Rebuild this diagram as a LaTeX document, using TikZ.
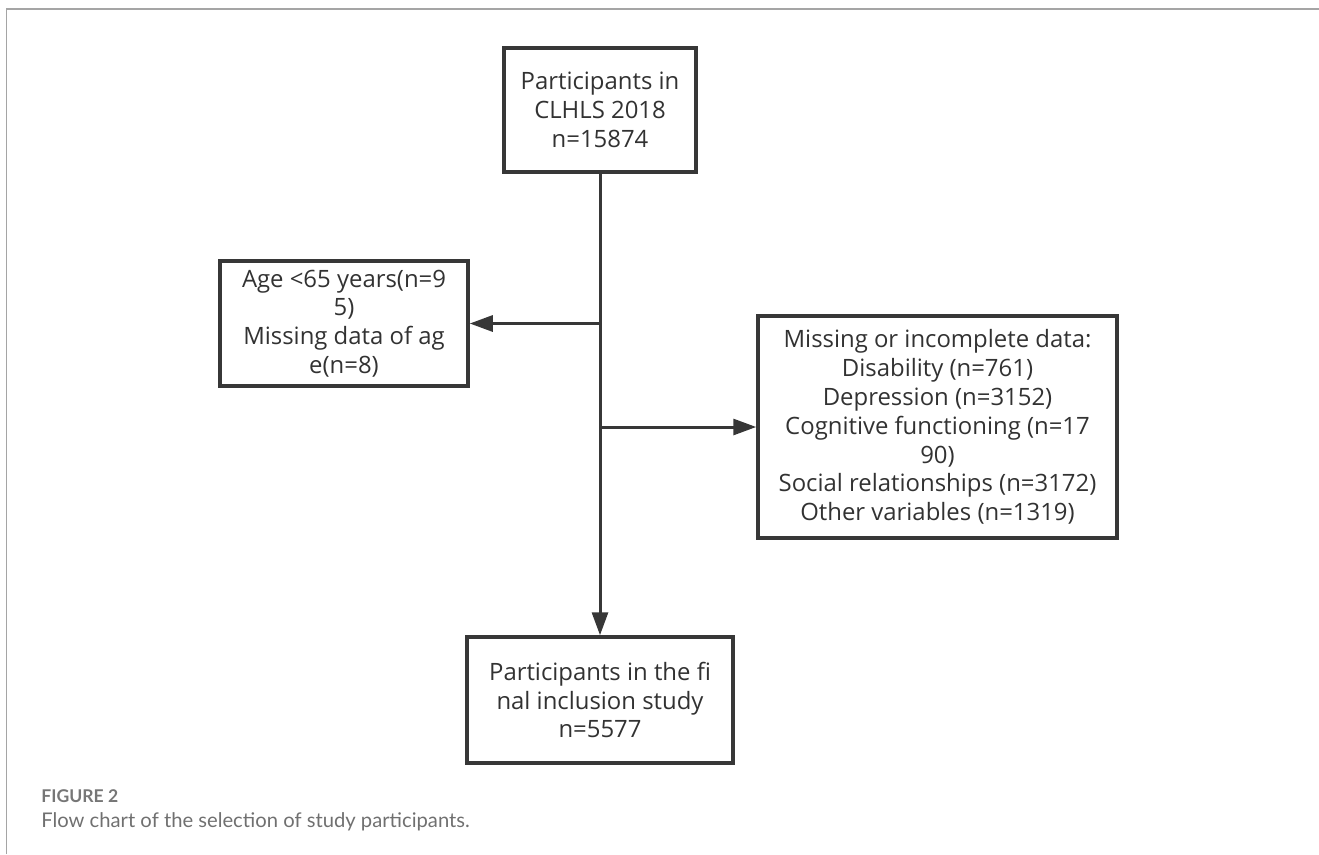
\documentclass[tikz,border=0pt]{standalone}
\usepackage{fontspec}
\setmainfont{Open Sans}
\newfontfamily\capfont{Lato}
\usetikzlibrary{arrows.meta, positioning}
\definecolor{boxGray}{RGB}{55,55,55}
\definecolor{textGray}{RGB}{50,50,50}
\definecolor{frameGray}{RGB}{165,165,165}
\definecolor{capGray}{RGB}{118,118,118}

\begin{document}
\begin{tikzpicture}[
    % Flow-chart box, sizes given per node
    stepbox/.style={
        rectangle, draw=boxGray, line width=2pt,
        text=textGray, align=center, inner sep=0pt,
        font=\fontsize{13.6}{16.4}\selectfont
    },
    % Connector with solid triangle tip
    flow/.style={
        -{Triangle[length=0.46cm, width=0.32cm]},
        line width=1.7pt, draw=boxGray
    },
    frameline/.style={draw=frameGray, line width=1.1pt},
    caphead/.style={font=\capfont\bfseries\fontsize{10}{12}\selectfont,
                    text=capGray, anchor=base west, inner sep=0pt},
    captext/.style={font=\capfont\fontsize{11.5}{13}\selectfont,
                    text=capGray!95!black, anchor=base west, inner sep=0pt}
]
\useasboundingbox (0,0) rectangle (26.38,-17.08);
% ── Page frame ────────────────────────────────────────────────
\coordinate (frametl) at (0.13,-0.18);
\coordinate (framebl) at (0.13,-17.08);
\coordinate (frametr) at (26.38,-0.18);
\draw[frameline] (framebl) -- (frametl) -- (frametr);
% ── MAIN COLUMN ───────────────────────────────────────────────
\node[stepbox, minimum width=3.84cm, minimum height=2.48cm]
    (source) at (12.0,-2.2) {Participants in\\ CLHLS 2018\\ n=15874};
\node[stepbox, minimum width=5.32cm, minimum height=2.52cm]
    (final)  at (12.0,-14.0) {Participants in the fi\\
                              nal inclusion study\\ n=5577};
% ── EXCLUSION BOXES ───────────────────────────────────────────
\node[stepbox, minimum width=4.96cm, minimum height=2.5cm]
    (agebox)  at (6.88,-6.47) {Age <65 years(n=9\\ 5)\\
                               Missing data of ag\\ e(n=8)};
\node[stepbox, minimum width=7.18cm, minimum height=4.44cm]
    (missbox) at (18.75,-8.54) {Missing or incomplete data:\\
                                Disability (n=761)\\
                                Depression (n=3152)\\
                                Cognitive functioning (n=17\\ 90)\\
                                Social relationships (n=3172)\\
                                Other variables (n=1319)};
% ── ARROWS ────────────────────────────────────────────────────
\draw[flow] (source.south) -- (final.north);
\coordinate (agesplit)  at (source.south |- agebox.east);
\coordinate (misssplit) at (source.south |- missbox.west);
\draw[flow] (agesplit)  -- (agebox.east);
\draw[flow] (misssplit) -- (missbox.west);
% ── Caption ───────────────────────────────────────────────────
\node[caphead] (fignum)  at (0.82,-16.04) {FIGURE 2};
\node[captext] (figtext) at (0.82,-16.54)
    {Flow chart of the selection of study participants.};
\end{tikzpicture}
\end{document}
